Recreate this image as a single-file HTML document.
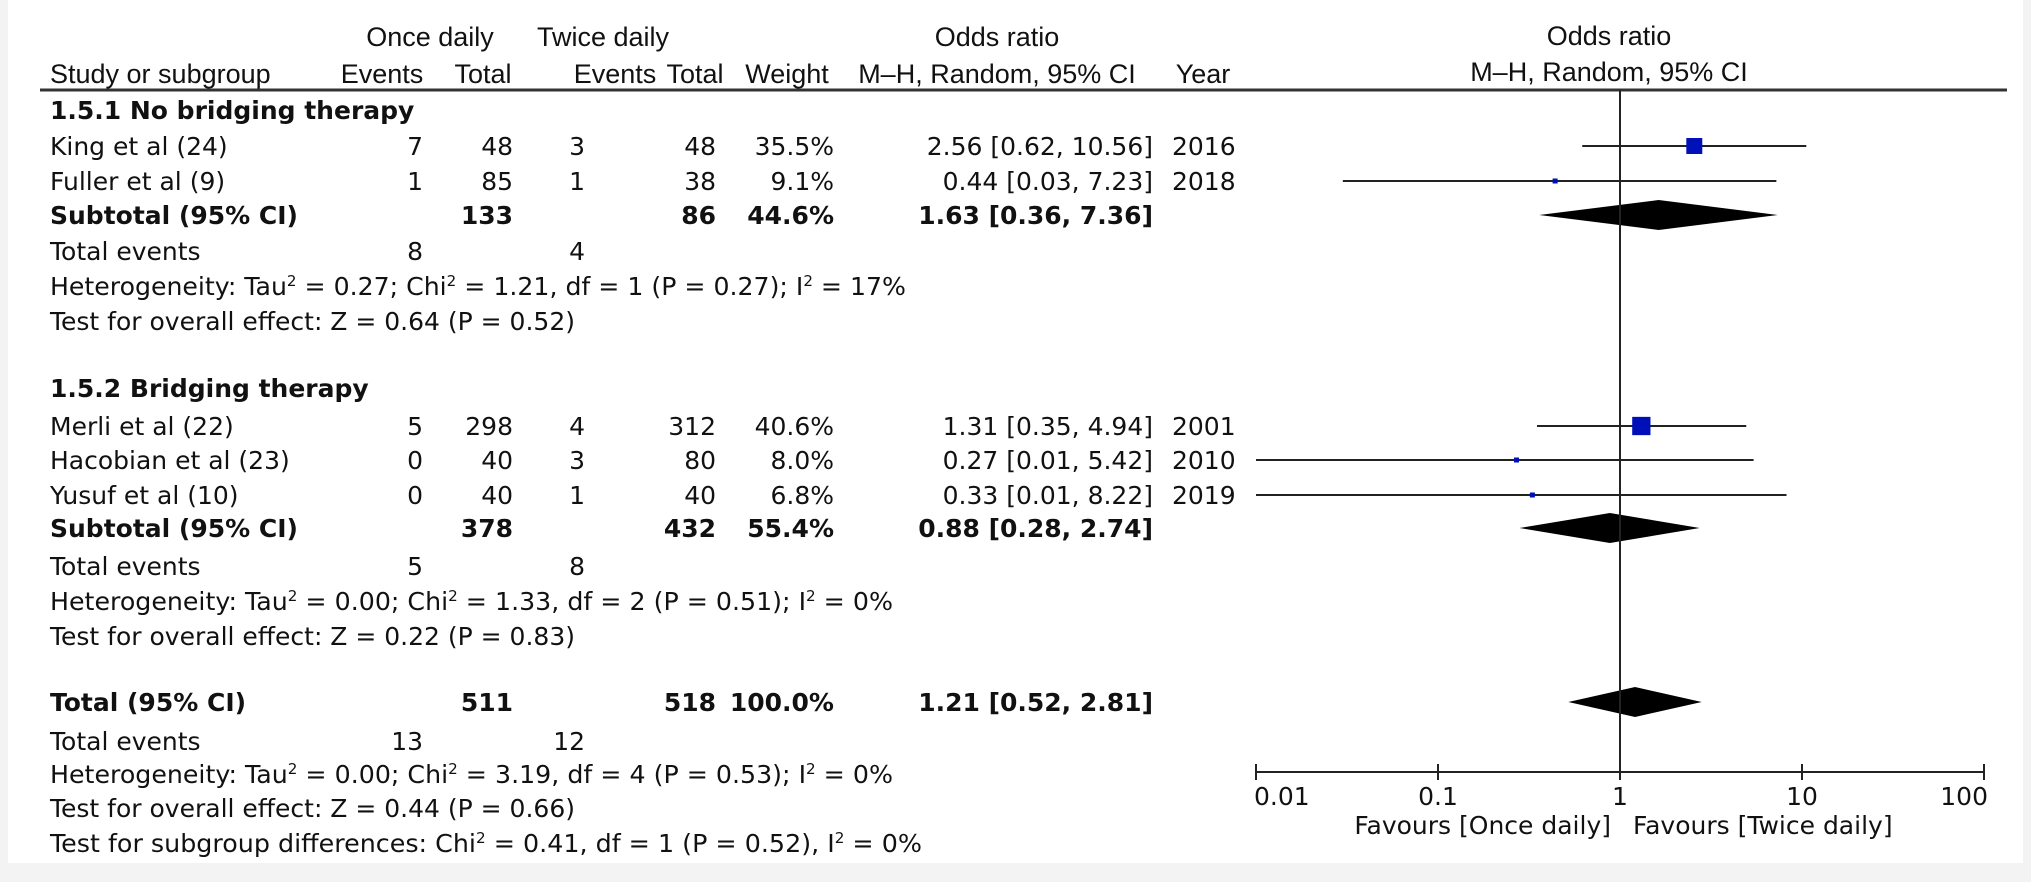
<!DOCTYPE html>
<html><head><meta charset="utf-8"><style>
html,body{margin:0;padding:0;background:#f3f3f3;}
svg{display:block;}
text{font-family:"DejaVu Sans","Liberation Sans",sans-serif;font-size:25px;fill:#111;}
.h{font-family:"Liberation Sans",sans-serif;font-size:27px;}
.hp{font-family:"Liberation Sans",sans-serif;font-size:27px;}
.b{font-weight:bold;}
</style></head><body>
<svg id="fp" width="2031" height="882" xmlns="http://www.w3.org/2000/svg">
<rect x="8" y="0" width="2015" height="863" fill="#fff"/>
<g id="g"></g>
</svg>
<script>
// data
const studyNames = ["King et al (24)","Fuller et al (9)","Merli et al (22)","Hacobian et al (23)","Yusuf et al (10)"];
const onceEvents = [7,1,5,0,0];
const onceTotal = [48,85,298,40,40];
const twiceEvents = [3,1,4,3,1];
const twiceTotal = [48,38,312,80,40];
const weights = [35.5,9.1,40.6,8.0,6.8];
const orValues = [2.56,0.44,1.31,0.27,0.33];
const ciLow = [0.62,0.03,0.35,0.01,0.01];
const ciHigh = [10.56,7.23,4.94,5.42,8.22];
const years = [2016,2018,2001,2010,2019];
const pooledNames = ["Subtotal (95% CI)","Subtotal (95% CI)","Total (95% CI)"];
const pooledOnceTotal = [133,378,511];
const pooledTwiceTotal = [86,432,518];
const pooledWeight = ["44.6%","55.4%","100.0%"];
const pooledOR = [1.63,0.88,1.21];
const pooledLow = [0.36,0.28,0.52];
const pooledHigh = [7.36,2.74,2.81];
const tickValues = [0.01,0.1,1,10,100];
const tickLabels = ["0.01","0.1","1","10","100"];

const NS="http://www.w3.org/2000/svg";
const g=document.getElementById('g');
function el(tag,attrs,txt){const e=document.createElementNS(NS,tag);for(const k in attrs)e.setAttribute(k,attrs[k]);if(txt!==undefined)e.textContent=txt;g.appendChild(e);return e;}
function T(x,y,s,anchor,cls,name){const e=el('text',{x:x,y:y,'text-anchor':anchor||'start',class:cls||''},s);

return e;}
function TS(x,y,parts,name,len){const e=el('text',{x:x,y:y});


if(len){e.setAttribute('textLength',len);e.setAttribute('lengthAdjust','spacingAndGlyphs');}
parts.forEach(p=>{const t=document.createElementNS(NS,'tspan');if(p.sup){t.setAttribute('baseline-shift','super');t.setAttribute('font-size','15');}t.textContent=p.t;e.appendChild(t);});}
const X0=1256,DEC=182;
function xs(v){return X0+(Math.log10(v)+2)*DEC;}

// headers
T(430,46,"Once daily","middle","h","once-daily-header");
T(603,46,"Twice daily","middle","h","twice-daily-header");
T(997,46,"Odds ratio","middle","h","odds-ratio-header");
T(1609,45,"Odds ratio","middle","hp","plot-odds-ratio-header");
T(50,83,"Study or subgroup","start","h","study-header");
T(382,83,"Events","middle","h","once-events-header");
T(483,83,"Total","middle","h","once-total-header");
T(615,83,"Events","middle","h","twice-events-header");
T(695,83,"Total","middle","h","twice-total-header");
T(787,83,"Weight","middle","h","weight-header");
T(997,83,"M–H, Random, 95% CI","middle","h","method-header");
T(1203,83,"Year","middle","h","year-header");
T(1609,81,"M–H, Random, 95% CI","middle","hp","plot-method-header");
let l=el('line',{x1:40,y1:90,x2:2007,y2:90,stroke:'#333','stroke-width':3});



const studyRows=[146,181,426,460,495];
const pooledRows=[215,528,702];
const off=9;
T(50,110+off,"1.5.1 No bridging therapy","start","b","subgroup-1-title");
T(50,388+off,"1.5.2 Bridging therapy","start","b","subgroup-2-title");

studyNames.forEach((n,i)=>{const y=studyRows[i]+off;
T(50,y,n,"start","","study-name");
T(423,y,onceEvents[i],"end","","once-events");
T(513,y,onceTotal[i],"end","","once-total");
T(585,y,twiceEvents[i],"end","","twice-events");
T(716,y,twiceTotal[i],"end","","twice-total");
T(834,y,weights[i].toFixed(1)+"%","end","","weight");
T(1153,y,orValues[i].toFixed(2)+" ["+ciLow[i].toFixed(2)+", "+ciHigh[i].toFixed(2)+"]","end","","odds-ratio-ci");
T(1172,y,years[i],"start","","year");
const yc=studyRows[i];
const ci=el('line',{x1:xs(ciLow[i]),y1:yc,x2:xs(ciHigh[i]),y2:yc,stroke:'#222','stroke-width':2});


const s=Math.max(5,weights[i]*0.45);
const sq=el('rect',{x:xs(orValues[i])-s/2,y:yc-s/2,width:s,height:s,fill:'#0010b8'});


});

pooledNames.forEach((n,i)=>{const y=pooledRows[i]+off;
T(50,y,n,"start","b","pooled-name");
T(513,y,pooledOnceTotal[i],"end","b","pooled-once-total");
T(716,y,pooledTwiceTotal[i],"end","b","pooled-twice-total");
T(834,y,pooledWeight[i],"end","b","pooled-weight");
T(1153,y,pooledOR[i].toFixed(2)+" ["+pooledLow[i].toFixed(2)+", "+pooledHigh[i].toFixed(2)+"]","end","b","pooled-odds-ratio");
const yc=pooledRows[i],h=15;
const d=el('polygon',{points:`${xs(pooledLow[i])},${yc} ${xs(pooledOR[i])},${yc-h} ${xs(pooledHigh[i])},${yc} ${xs(pooledOR[i])},${yc+h}`,fill:'#000'});


});

// summary text
const te=[[251,"8","4"],[566,"5","8"],[741,"13","12"]];
te.forEach(r=>{T(50,r[0]+off,"Total events","start","","total-events-label");
T(423,r[0]+off,r[1],"end","","once-total-events");
T(585,r[0]+off,r[2],"end","","twice-total-events");});
TS(50,286+off,[{t:"Heterogeneity: Tau"},{t:"2",sup:1},{t:" = 0.27; Chi"},{t:"2",sup:1},{t:" = 1.21, df = 1 (P = 0.27); I"},{t:"2",sup:1},{t:" = 17%"}],"heterogeneity-1",856);
T(50,321+off,"Test for overall effect: Z = 0.64 (P = 0.52)","start","","overall-effect-1");
TS(50,601+off,[{t:"Heterogeneity: Tau"},{t:"2",sup:1},{t:" = 0.00; Chi"},{t:"2",sup:1},{t:" = 1.33, df = 2 (P = 0.51); I"},{t:"2",sup:1},{t:" = 0%"}],"heterogeneity-2",843);
T(50,636+off,"Test for overall effect: Z = 0.22 (P = 0.83)","start","","overall-effect-2");
TS(50,774+off,[{t:"Heterogeneity: Tau"},{t:"2",sup:1},{t:" = 0.00; Chi"},{t:"2",sup:1},{t:" = 3.19, df = 4 (P = 0.53); I"},{t:"2",sup:1},{t:" = 0%"}],"heterogeneity-total",843);
T(50,808+off,"Test for overall effect: Z = 0.44 (P = 0.66)","start","","overall-effect-total");
TS(50,843+off,[{t:"Test for subgroup differences: Chi"},{t:"2",sup:1},{t:" = 0.41, df = 1 (P = 0.52), I"},{t:"2",sup:1},{t:" = 0%"}],"subgroup-differences",872);

// axis
const ref=el('line',{x1:xs(1),y1:90,x2:xs(1),y2:772,stroke:'#222','stroke-width':2});


const ax=el('line',{x1:xs(0.01),y1:772,x2:xs(100),y2:772,stroke:'#222','stroke-width':2});


tickValues.forEach((v,i)=>{
const t=el('line',{x1:xs(v),y1:764,x2:xs(v),y2:780,stroke:'#222','stroke-width':2});


const a=i==0?'start':(i==tickValues.length-1?'end':'middle');
T(xs(v)+(i==0?-2:(i==tickValues.length-1?4:0)),805,tickLabels[i],a,"","x-tick-label");
});
T(1611,834,"Favours [Once daily]","end","","favours-once-label");
T(1633,834,"Favours [Twice daily]","start","","favours-twice-label");
</script>
</body></html>
